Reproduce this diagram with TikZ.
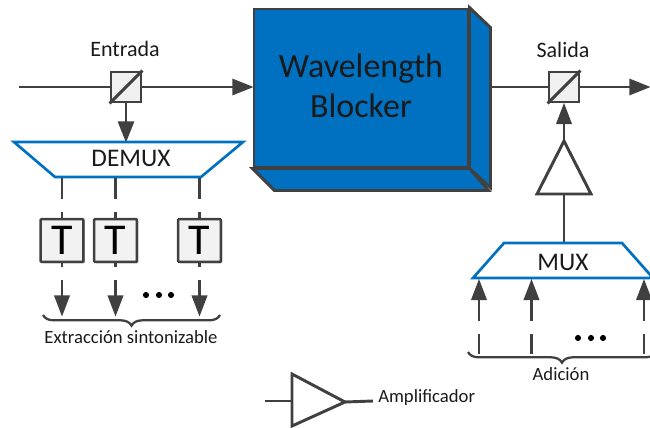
\documentclass[tikz,border=0pt]{standalone}
\usepackage{fontspec}
\setmainfont{Carlito}
\usetikzlibrary{arrows.meta,shadows,decorations.pathreplacing}
\definecolor{linea}{HTML}{404040}
\definecolor{azul}{HTML}{0070C0}
\definecolor{texto}{HTML}{1A1A1A}
\tikzset{
	linea/.style={draw=linea,line width=2.2pt},
	flecha/.style={linea,-{Triangle[length=16pt,width=12pt]},shorten >=-0.5pt},
	flechita/.style={linea,-{Triangle[length=16pt,width=11.5pt]},shorten >=-0.5pt},
	divisor/.style={draw=linea,line width=2.2pt,fill=black!6,minimum size=22.5pt,inner sep=0pt},
	filtro/.style={draw=linea,line width=1.8pt,fill=black!5,minimum size=32pt,inner sep=0pt,rounded corners=0.6pt,
		font=\fontsize{33pt}{33pt}\selectfont,drop shadow={shadow xshift=1.2pt,shadow yshift=-1.2pt,fill=black,opacity=0.25}},
	mux/.style={draw=azul,line width=2pt,fill=white,line join=miter},
	amp/.style={draw=linea,line width=2.2pt,fill=white,line join=miter},
	etiqueta/.style={text=texto,inner sep=0pt,font=\fontsize{16.5pt}{20pt}\selectfont},
	chico/.style={text=texto,inner sep=0pt,font=\fontsize{14pt}{17pt}\selectfont},
	llave/.style={draw=linea,line width=1.7pt,decorate,decoration={brace,mirror,amplitude=8pt}},
}
\begin{document}
\begin{tikzpicture}[x=0.75pt,y=-0.75pt]
	\useasboundingbox (0,0) rectangle (650,428);
	\clip (0,0) rectangle (650,428);
	% bloque
	\node[draw=linea,line width=2.2pt,fill=azul,minimum width=160.5pt,minimum height=118.5pt,inner sep=0pt] (wb) at (361,88) {};
	\draw[draw=linea,line width=2.2pt,fill=azul,line join=miter] (wb.north east)--++(21,20)--++(0,160)--(wb.south east)--cycle;
	\draw[draw=linea,line width=2.2pt,fill=azul,line join=miter] (wb.south west)--++(22,22)--++(214,0)--(wb.south east)--cycle;
	\node[text=texto,inner sep=0pt,align=center,font=\fontsize{25.5pt}{30pt}\selectfont] (wbtexto) at (361,86) {Wavelength\\Blocker};
	\coordinate (wbE) at (253,87);
	\coordinate (wbS) at (490,87);
	% entrada
	\node[divisor] (divE) at (126,87) {};
	\draw[linea] (divE.south west)--(divE.north east);
	\coordinate (ini) at (19,87);
	\node[etiqueta] (entrada) at (125,49) {Entrada};
	\draw[linea] (ini)--(divE.west);
	\draw[flecha] (divE.east)--(wbE);
	% demux
	\coordinate (dmA) at (14,142);
	\coordinate (dmB) at (243,142);
	\coordinate (dmC) at (201,177);
	\coordinate (dmD) at (55,177);
	\coordinate (dmE) at (126,142);
	\draw[flecha] (divE.south)--(dmE);
	\draw[mux] (dmA)--(dmB)--(dmC)--(dmD)--cycle;
	\node[text=texto,inner sep=0pt,font=\fontsize{19pt}{23pt}\selectfont] (demux) at (131,158) {DEMUX};
	\foreach \n/\x in {a/62,b/115.5,c/199.5}{
		\coordinate (s\n1) at (\x,178);
		\coordinate (s\n2) at (\x,199);
		\coordinate (s\n3) at (\x,212);
		\coordinate (s\n4) at (\x,267);
		\coordinate (s\n5) at (\x,280);
		\coordinate (s\n6) at (\x,316);
		\draw[linea] (s\n1)--(s\n2);
		\draw[linea] (s\n3)--(s\n4);
		\node[filtro] (t\n) at (\x,240.5) {T};
		\draw[flechita] (s\n5)--(s\n6);
	}
	\foreach \x in {146,159,171} \fill (\x,295) circle(2.3pt);
	\coordinate (llA) at (43,315);
	\coordinate (llB) at (220,315);
	\draw[llave] (llA)--(llB);
	\node[chico] (extr) at (131,337.5) {Extracción sintonizable};
	% salida
	\node[divisor] (divS) at (564,87) {};
	\draw[linea] (divS.south west)--(divS.north east);
	\coordinate (fin) at (650,87);
	\node[etiqueta] (salida) at (563,50) {Salida};
	\draw[linea] (wbS)--(divS.west);
	\draw[flecha] (divS.east)--(fin);
	% amplificador
	\coordinate (amA) at (564,141);
	\coordinate (amB) at (591,194);
	\coordinate (amC) at (537,194);
	\coordinate (amD) at (564,194);
	\coordinate (mxE) at (564,243);
	\draw[flechita] (amA)--(divS.south);
	\draw[amp] (amA)--(amB)--(amC)--cycle;
	\draw[linea] (amD)--(mxE);
	% mux
	\coordinate (mxA) at (504,243);
	\coordinate (mxB) at (622,243);
	\coordinate (mxC) at (653,278);
	\coordinate (mxD) at (473,278);
	\draw[mux] (mxA)--(mxB)--(mxC)--(mxD)--cycle;
	\node[text=texto,inner sep=0pt,font=\fontsize{19pt}{23pt}\selectfont] (muxt) at (563,262) {MUX};
	\foreach \n/\x in {a/479,b/531.5,c/644}{
		\coordinate (e\n1) at (\x,321);
		\coordinate (e\n2) at (\x,279.5);
		\coordinate (e\n3) at (\x,334);
		\coordinate (e\n4) at (\x,354);
		\draw[flechita] (e\n1)--(e\n2);
		\draw[linea] (e\n3)--(e\n4);
	}
	\foreach \x in {578,591,603} \fill (\x,338) circle(2.3pt);
	\coordinate (llC) at (468,352);
	\coordinate (llD) at (656,352);
	\draw[llave] (llC)--(llD);
	\node[chico] (adic) at (561,374) {Adición};
	% leyenda
	\coordinate (leA) at (292,374);
	\coordinate (leB) at (345,402);
	\coordinate (leC) at (292,426);
	\coordinate (leD) at (265,401);
	\coordinate (leE) at (292,401);
	\coordinate (leF) at (373,401);
	\draw[linea] (leD)--(leE);
	\draw[linea] (leB)--(leF);
	\draw[amp] (leA)--(leB)--(leC)--cycle;
	\node[chico,anchor=west] (ampl) at (378,398) {Amplificador};
\end{tikzpicture}
\end{document}
